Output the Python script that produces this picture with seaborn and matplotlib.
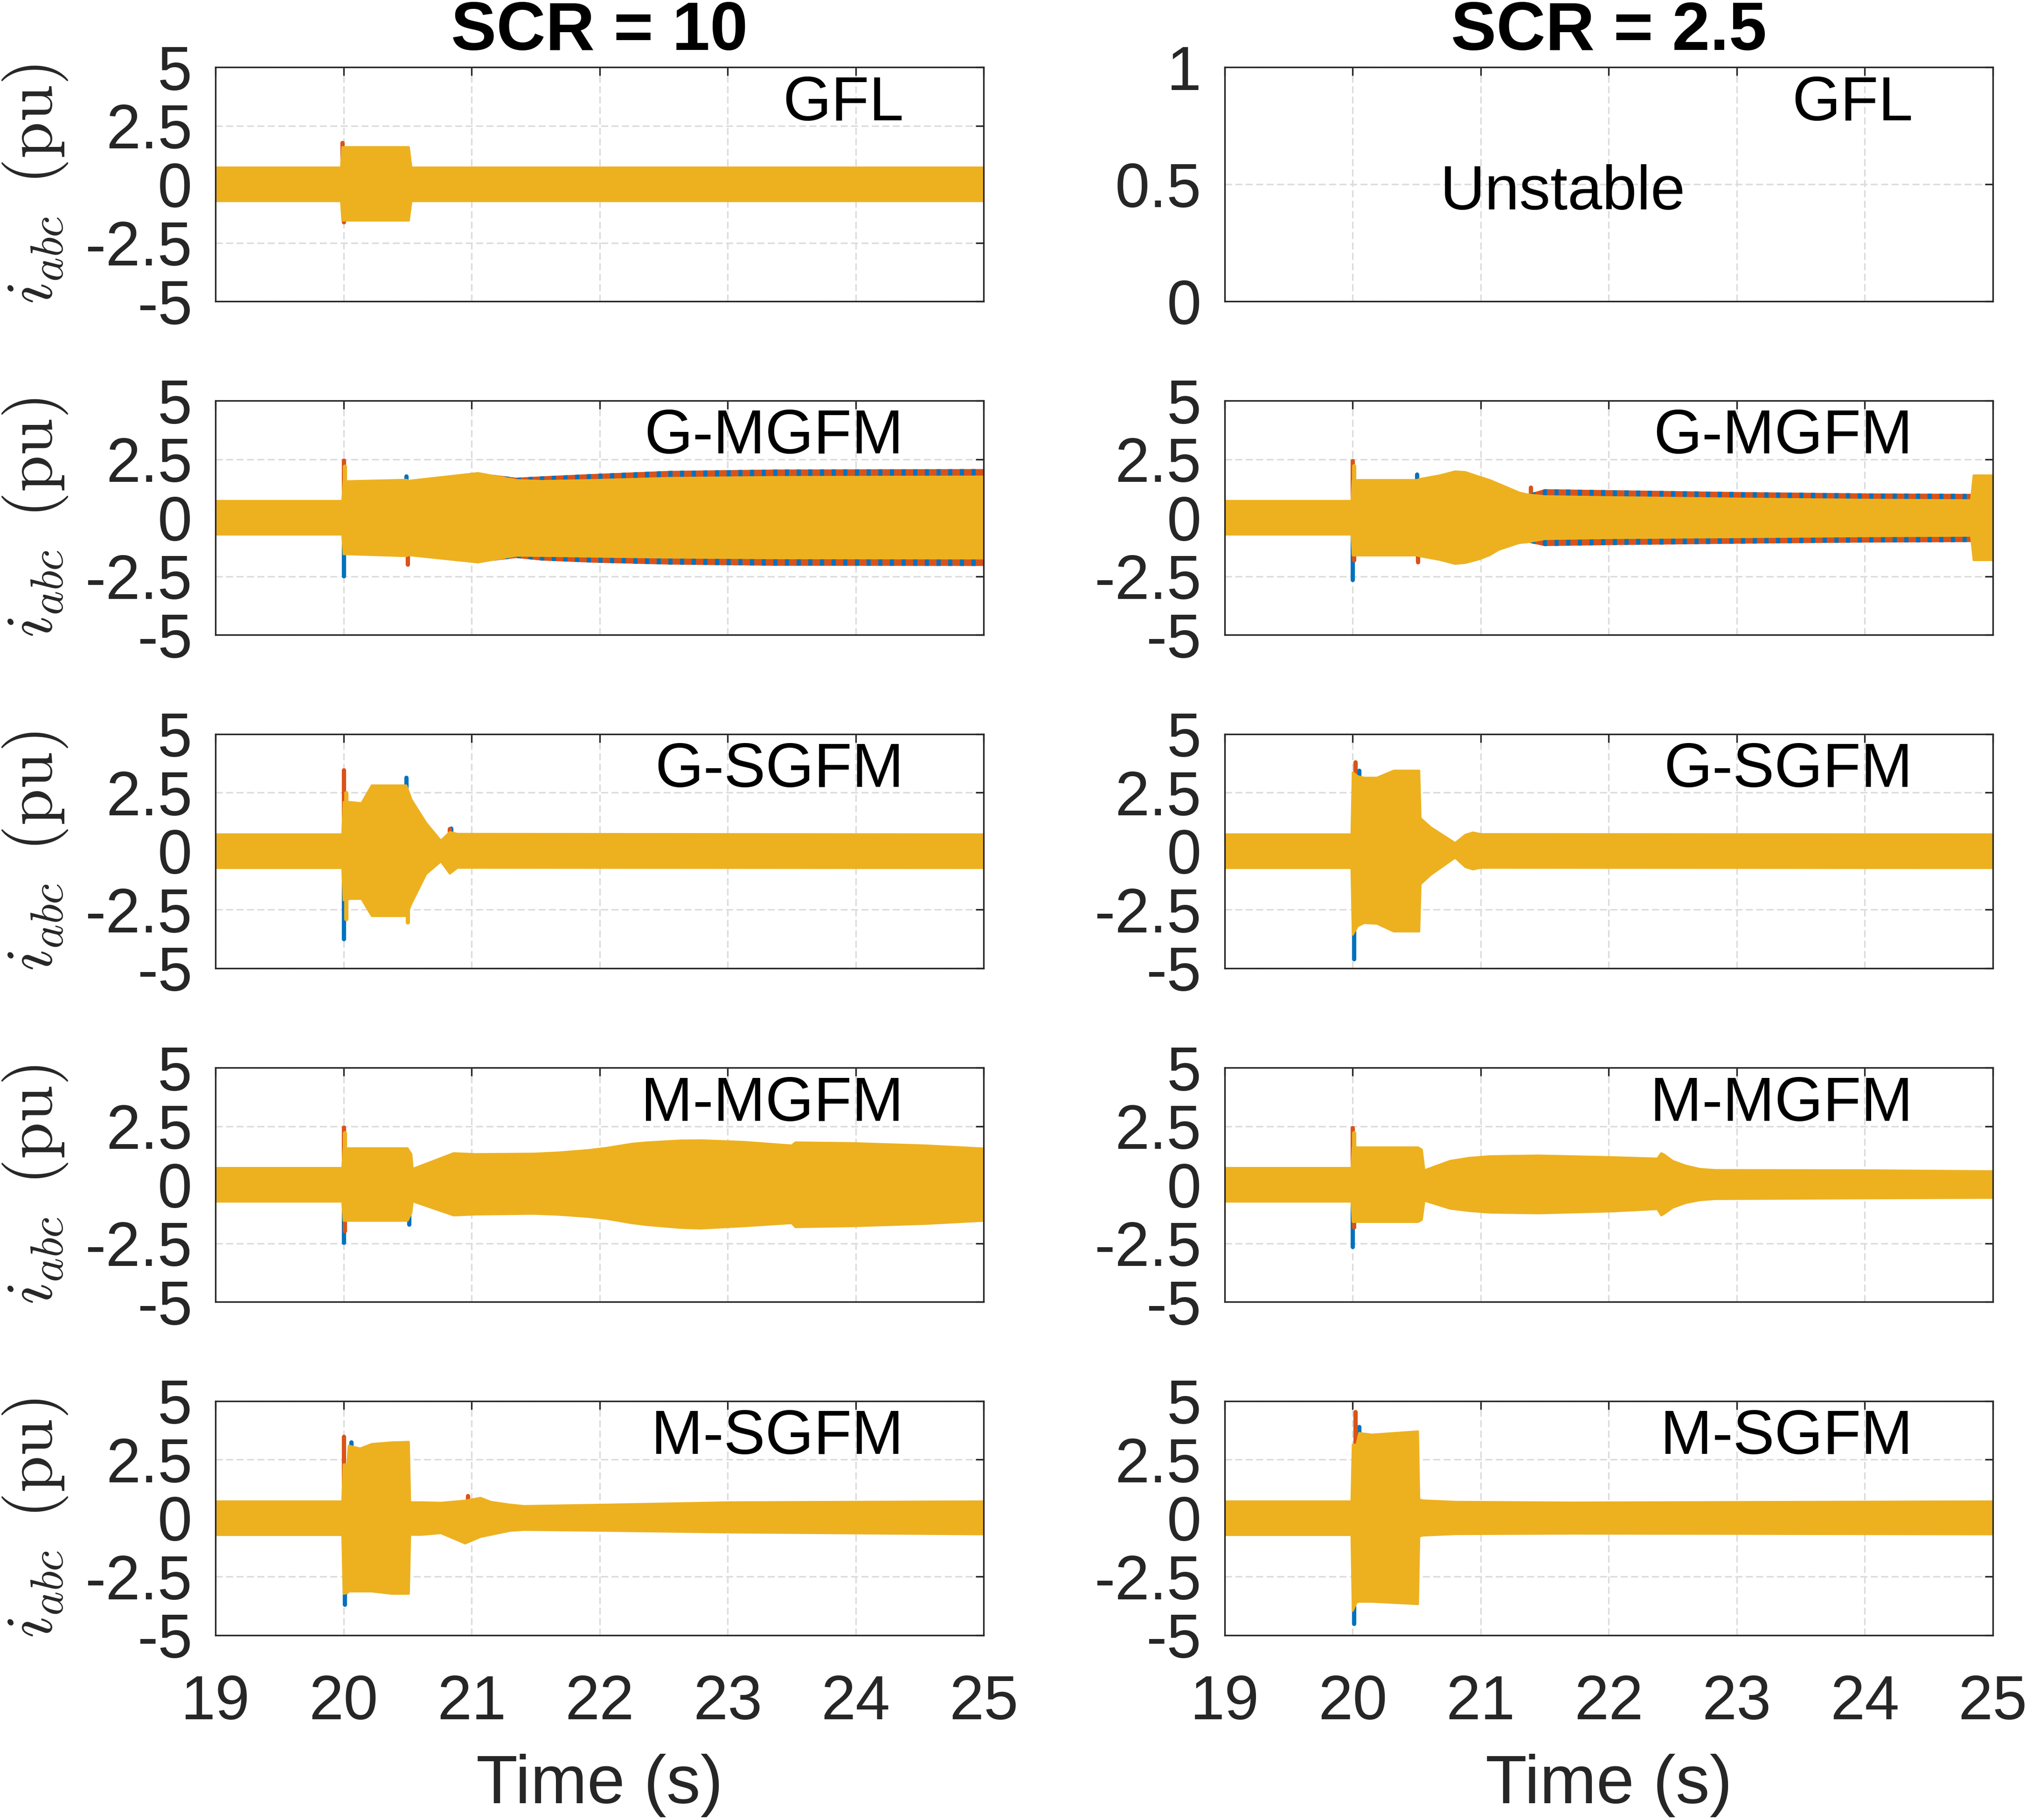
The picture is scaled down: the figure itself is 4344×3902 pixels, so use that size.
import numpy as np
import matplotlib
matplotlib.use("Agg")
import matplotlib.pyplot as plt
import seaborn as sns

# ---------------- data ----------------
TIME_TICKS = [19, 20, 21, 22, 23, 24, 25]
Y_TICKS = [-5, -2.5, 0, 2.5, 5]
Y_TICK_LABELS = ["-5", "-2.5", "0", "2.5", "5"]
UNSTABLE_TICKS = [0, 0.5, 1]
UNSTABLE_TICK_LABELS = ["0", "0.5", "1"]
COLUMN_TITLES = ["SCR = 10", "SCR = 2.5"]
ROW_NAMES = ["GFL", "G-MGFM", "G-SGFM", "M-MGFM", "M-SGFM"]

# envelopes of the three-phase currents (time, upper, lower), rim = oscillation fringe
GFL10_T = [19.0, 19.98, 19.99, 20.51, 20.53, 25.0]
GFL10_HI = [0.72, 0.72, 1.59, 1.59, 0.72, 0.72]
GFL10_LO = [-0.72, -0.72, -1.55, -1.55, -0.72, -0.72]
GFL10_SPK_T = [19.99, 20.0]
GFL10_SPK_V = [1.77, -1.62]
GFL10_SPK_P = [1, 1]

GM10_T = [19.0, 19.99, 20.0, 20.03, 20.49, 20.51, 21.05, 21.35, 21.55, 21.95, 22.54, 23.37, 25.0]
GM10_HI = [0.72, 0.72, 1.56, 1.56, 1.62, 1.58, 1.91, 1.71, 1.77, 1.87, 2.0, 2.06, 2.08]
GM10_LO = [-0.72, -0.72, -1.56, -1.56, -1.64, -1.60, -1.91, -1.72, -1.83, -1.92, -2.0, -2.05, -2.06]
GM10_RIM = [0, 0, 0, 0, 0, 0, 0, 0.1, 0.2, 0.26, 0.3, 0.32, 0.32]
GM10_SPK_T = [20.0, 20.0, 20.01, 20.49, 20.5]
GM10_SPK_V = [2.45, -2.48, 2.2, 1.77, -1.99]
GM10_SPK_P = [1, 0, 2, 0, 1]

GS10_T = [19.0, 19.99, 20.0, 20.05, 20.14, 20.22, 20.49, 20.53, 20.645, 20.76, 20.83, 20.89, 25.0]
GS10_HI = [0.72, 0.72, 2.1, 2.1, 2.05, 2.81, 2.81, 2.21, 1.21, 0.45, 0.82, 0.74, 0.72]
GS10_LO = [-0.72, -0.72, -2.1, -2.04, -2.04, -2.77, -2.77, -2.24, -0.98, -0.44, -0.96, -0.71, -0.72]
GS10_SPK_T = [20.0, 20.0, 20.02, 20.02, 20.49, 20.5, 20.83, 20.84]
GS10_SPK_V = [3.47, -3.75, 2.48, -2.9, 3.14, -3.03, 0.95, 0.98]
GS10_SPK_P = [1, 0, 2, 2, 0, 2, 1, 0]

MM10_T = [19.0, 19.99, 20.0, 20.03, 20.5, 20.53, 20.54, 20.86, 21.03, 21.49, 21.68, 21.91, 22.06,
          22.25, 22.37, 22.63, 22.79, 23.13, 23.5, 23.53, 23.97, 24.55, 25.0]
MM10_HI = [0.72, 0.72, 1.56, 1.56, 1.56, 1.3, 0.68, 1.35, 1.31, 1.33, 1.38, 1.48, 1.58,
           1.75, 1.81, 1.89, 1.90, 1.83, 1.68, 1.81, 1.78, 1.68, 1.55]
MM10_LO = [-0.72, -0.72, -1.54, -1.54, -1.54, -1.2, -0.71, -1.31, -1.27, -1.24, -1.28, -1.37, -1.46,
           -1.64, -1.72, -1.84, -1.87, -1.77, -1.64, -1.81, -1.77, -1.67, -1.54]
MM10_SPK_T = [20.0, 20.0, 20.01, 20.01, 20.51]
MM10_SPK_V = [2.46, -2.47, 2.21, -1.97, -1.7]
MM10_SPK_P = [1, 0, 2, 1, 0]

MS10_T = [19.0, 19.99, 20.0, 20.03, 20.04, 20.13, 20.22, 20.38, 20.51, 20.52, 20.61, 20.76, 20.95,
          21.07, 21.15, 21.3, 21.41, 22.06, 23.02, 25.0]
MS10_HI = [0.72, 0.72, 2.3, 2.3, 3.1, 2.98, 3.17, 3.24, 3.26, 0.68, 0.68, 0.66, 0.75,
           0.87, 0.7, 0.58, 0.52, 0.58, 0.68, 0.72]
MS10_LO = [-0.72, -0.72, -3.23, -3.2, -3.13, -3.13, -3.13, -3.23, -3.23, -0.71, -0.71, -0.64, -1.08,
           -0.8, -0.71, -0.54, -0.5, -0.54, -0.61, -0.69]
MS10_SPK_T = [20.0, 20.01, 20.06, 20.97, 20.98]
MS10_SPK_V = [3.49, -3.69, 3.24, 0.95, -0.9]
MS10_SPK_P = [1, 0, 0, 1, 0]

GM25_T = [19.0, 19.99, 20.0, 20.03, 20.5, 20.52, 20.68, 20.80, 20.88, 20.99, 21.07, 21.14, 21.30,
          21.36, 21.5, 22.0, 23.0, 24.0, 24.83, 24.85, 25.0]
GM25_HI = [0.72, 0.72, 1.61, 1.61, 1.61, 1.65, 1.81, 1.98, 1.95, 1.75, 1.61, 1.45, 1.08,
           1.0, 1.22, 1.18, 1.10, 1.04, 1.02, 1.81, 1.81]
GM25_LO = [-0.72, -0.72, -1.61, -1.61, -1.61, -1.64, -1.80, -1.97, -1.93, -1.77, -1.60, -1.37, -1.08,
           -1.05, -1.21, -1.17, -1.11, -1.06, -1.04, -1.81, -1.81]
GM25_RIM = [0, 0, 0, 0, 0, 0, 0, 0, 0, 0, 0, 0, 0, 0, 0.3, 0.3, 0.28, 0.27, 0.27, 0, 0]
GM25_SPK_T = [20.0, 20.0, 20.01, 20.01, 20.5, 20.51, 21.39]
GM25_SPK_V = [2.44, -2.64, 2.21, -1.81, 1.85, -1.9, 1.3]
GM25_SPK_P = [1, 0, 2, 1, 0, 1, 1]

GS25_T = [19.0, 19.99, 20.0, 20.04, 20.09, 20.19, 20.32, 20.52, 20.53, 20.61, 20.80, 20.88, 20.94, 21.0, 25.0]
GS25_HI = [0.72, 0.72, 3.37, 3.2, 3.14, 3.14, 3.44, 3.44, 1.41, 1.02, 0.35, 0.70, 0.80, 0.73, 0.72]
GS25_LO = [-0.72, -0.72, -3.57, -3.2, -3.07, -3.1, -3.43, -3.43, -1.41, -1.01, -0.28, -0.68, -0.78, -0.71, -0.72]
GS25_SPK_T = [20.02, 20.05, 20.01]
GS25_SPK_V = [3.80, 3.44, -4.60]
GS25_SPK_P = [1, 0, 0]

MM25_T = [19.0, 19.99, 20.0, 20.03, 20.51, 20.54, 20.56, 20.76, 20.91, 21.07, 21.45, 22.02, 22.38,
          22.41, 22.43, 22.50, 22.60, 22.71, 22.83, 24.0, 25.0]
MM25_HI = [0.72, 0.72, 1.6, 1.6, 1.6, 1.5, 0.62, 1.02, 1.15, 1.22, 1.25, 1.18, 1.12,
           1.35, 1.3, 1.02, 0.82, 0.68, 0.63, 0.62, 0.58]
MM25_LO = [-0.72, -0.72, -1.59, -1.59, -1.59, -1.5, -0.68, -1.02, -1.12, -1.19, -1.22, -1.14, -1.04,
           -1.31, -1.25, -0.98, -0.78, -0.66, -0.61, -0.58, -0.56]
MM25_SPK_T = [20.0, 20.0, 20.01, 20.01]
MM25_SPK_V = [2.44, -2.64, 2.21, -1.81]
MM25_SPK_P = [1, 0, 2, 1]

MS25_T = [19.0, 19.99, 20.0, 20.03, 20.05, 20.15, 20.51, 20.52, 20.55, 20.8, 21.7, 23.0, 25.0]
MS25_HI = [0.72, 0.72, 3.14, 3.14, 3.64, 3.57, 3.71, 0.80, 0.76, 0.70, 0.67, 0.69, 0.72]
MS25_LO = [-0.72, -0.72, -3.96, -3.6, -3.57, -3.57, -3.67, -0.78, -0.74, -0.68, -0.66, -0.67, -0.69]
MS25_SPK_T = [20.02, 20.05, 20.01]
MS25_SPK_V = [4.54, 3.9, -4.5]
MS25_SPK_P = [1, 0, 0]

# ---------------- style ----------------
BLUE, RED, YEL = "#0072BD", "#D95319", "#EDB120"
PHASE_COLORS = [BLUE, RED, YEL]
AX_COL = "#262626"

sns.set_theme(style="white")
plt.rcParams["font.family"] = ["Liberation Sans", "DejaVu Sans"]
plt.rcParams["mathtext.fontset"] = "cm"
plt.rcParams["hatch.linewidth"] = 2.2

fig = plt.figure(figsize=(14.48, 13.0067), dpi=300)
fig.patch.set_facecolor("white")

COL_X = [0.1064, 0.6045]
AX_W = 0.3791
ROW_Y = [0.8344, 0.6512, 0.4680, 0.2847, 0.1015]
AX_H = 0.12865

panels = {
    (0, 0): (GFL10_T, GFL10_HI, GFL10_LO, None, GFL10_SPK_T, GFL10_SPK_V, GFL10_SPK_P),
    (1, 0): (GM10_T, GM10_HI, GM10_LO, GM10_RIM, GM10_SPK_T, GM10_SPK_V, GM10_SPK_P),
    (2, 0): (GS10_T, GS10_HI, GS10_LO, None, GS10_SPK_T, GS10_SPK_V, GS10_SPK_P),
    (3, 0): (MM10_T, MM10_HI, MM10_LO, None, MM10_SPK_T, MM10_SPK_V, MM10_SPK_P),
    (4, 0): (MS10_T, MS10_HI, MS10_LO, None, MS10_SPK_T, MS10_SPK_V, MS10_SPK_P),
    (1, 1): (GM25_T, GM25_HI, GM25_LO, GM25_RIM, GM25_SPK_T, GM25_SPK_V, GM25_SPK_P),
    (2, 1): (GS25_T, GS25_HI, GS25_LO, None, GS25_SPK_T, GS25_SPK_V, GS25_SPK_P),
    (3, 1): (MM25_T, MM25_HI, MM25_LO, None, MM25_SPK_T, MM25_SPK_V, MM25_SPK_P),
    (4, 1): (MS25_T, MS25_HI, MS25_LO, None, MS25_SPK_T, MS25_SPK_V, MS25_SPK_P),
}


def draw_spikes(ax, st, sv, sp, phase, z):
    ts = [a for a, p in zip(st, sp) if p == phase]
    vs = [b for b, p in zip(sv, sp) if p == phase]
    if ts:
        ax.vlines(ts, 0, vs, colors=PHASE_COLORS[phase], linewidth=2.2,
                  capstyle="round", zorder=z)


def draw_panel(ax, t, hi, lo, rim, st, sv, sp):
    t = np.asarray(t, float)
    hi = np.asarray(hi, float)
    lo = np.asarray(lo, float)
    r = np.zeros_like(t) if rim is None else np.asarray(rim, float)
    draw_spikes(ax, st, sv, sp, 0, 1.2)
    draw_spikes(ax, st, sv, sp, 1, 1.4)
    if rim is not None:
        ax.fill_between(t, hi, lo, facecolor=RED, edgecolor=BLUE, hatch="||",
                        linewidth=0, zorder=1.6)
    yh, yl = hi - r, lo + r
    ax.fill_between(t, yh, yl, color=YEL, linewidth=0, zorder=2)
    sns.lineplot(x=t, y=yh, ax=ax, color=YEL, linewidth=1.0, sort=False,
                 estimator=None, zorder=2.1)
    sns.lineplot(x=t, y=yl, ax=ax, color=YEL, linewidth=1.0, sort=False,
                 estimator=None, zorder=2.1)
    draw_spikes(ax, st, sv, sp, 2, 2.2)


for row in range(5):
    for col in range(2):
        ax = fig.add_axes([COL_X[col], ROW_Y[row], AX_W, AX_H])
        ax.set_facecolor("white")
        ax.set_axisbelow(True)
        if (row, col) in panels:
            draw_panel(ax, *panels[(row, col)])
        ax.set_xlim(19, 25)
        ax.set_xticks(TIME_TICKS)
        if row == 0 and col == 1:
            ax.set_ylim(0, 1)
            ax.set_yticks(UNSTABLE_TICKS)
            ax.set_yticklabels(UNSTABLE_TICK_LABELS)
            ax.text(0.44, 0.393, "Unstable", transform=ax.transAxes, ha="center",
                    va="baseline", fontsize=32, color="black")
        else:
            ax.set_ylim(-5, 5)
            ax.set_yticks(Y_TICKS)
            ax.set_yticklabels(Y_TICK_LABELS)
        ax.grid(True, color="#DCDCDC", linestyle=(0, (4.5, 2.2)), linewidth=0.8)
        ax.tick_params(direction="in", length=4.2, width=0.8, top=True, right=True,
                       labelsize=32, colors=AX_COL)
        ax.tick_params(axis="x", pad=20)
        ax.tick_params(axis="y", pad=12)
        for s in ax.spines.values():
            s.set_visible(True)
            s.set_color(AX_COL)
            s.set_linewidth(0.8)
            s.set_zorder(3)
        if row < 4:
            ax.tick_params(labelbottom=False)
        else:
            ax.set_xticklabels([str(v) for v in TIME_TICKS])
            ax.set_xlabel("Time (s)", fontsize=35, color=AX_COL, labelpad=11)
        if col == 0:
            ax.set_ylabel(r"$i_{abc}\ \,\mathrm{(pu)}$", fontsize=34, color=AX_COL)
            ax.yaxis.set_label_coords(-0.19, 0.5)
        else:
            ax.set_ylabel("")
        if row == 0:
            ax.set_title(COLUMN_TITLES[col], fontsize=35, fontweight="bold",
                         color="black", pad=9)
        ax.text(0.896, 0.774, ROW_NAMES[row], transform=ax.transAxes, ha="right",
                va="baseline", fontsize=32, color="black", zorder=5)

fig.savefig("out.png", dpi=300, facecolor="white")
